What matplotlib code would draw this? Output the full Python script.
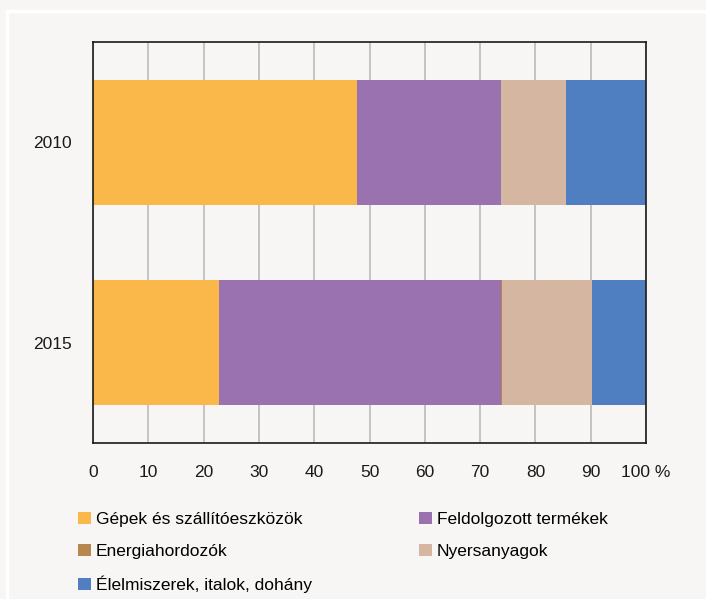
import numpy as np
import matplotlib.pyplot as plt
from matplotlib.patches import Patch, Rectangle

plt.rcParams['font.family'] = ['Liberation Sans', 'DejaVu Sans']

years = ["2010", "2015"]
categories = ["Gépek és szállítóeszközök", "Feldolgozott termékek", "Energiahordozók",
              "Nyersanyagok", "Élelmiszerek, italok, dohány"]
shares = {
    "Gépek és szállítóeszközök": [47.7, 22.8],
    "Feldolgozott termékek": [26.0, 51.0],
    "Energiahordozók": [0.1, 0.1],
    "Nyersanyagok": [11.7, 16.3],
    "Élelmiszerek, italok, dohány": [14.5, 9.8],
}
colors = ["#FBB84A", "#9B72B0", "#B8864F", "#D5B7A1", "#507FC1"]
xticks = [0, 10, 20, 30, 40, 50, 60, 70, 80, 90, 100]
xticklabels = ["0", "10", "20", "30", "40", "50", "60", "70", "80", "90", "100 %"]

bg = "#F7F6F4"
fig = plt.figure(figsize=(7.06, 5.99), dpi=100, facecolor=bg)
# white frame around the chart area
fig.patches.append(Rectangle((7 / 706, -0.01), 1.1, 1 - 11 / 599 + 0.01, transform=fig.transFigure,
                             fill=False, edgecolor="white", linewidth=2.5))
ax = fig.add_axes([93 / 706, 1 - 443 / 599, (646 - 93) / 706, (443 - 42) / 599])
ax.set_facecolor(bg)

y = np.arange(len(years))
left = np.zeros(len(years))
for cat, col in zip(categories, colors):
    vals = np.array(shares[cat])
    ax.barh(y, vals, left=left, height=0.625, color=col, label=cat, zorder=3)
    left += vals

ax.set_xlim(0, 100)
ax.set_ylim(1.5, -0.5)
ax.set_yticks(y)
ax.set_yticklabels(years)
ax.set_xticks(xticks)
ax.set_xticklabels(xticklabels)
ax.tick_params(length=0, labelsize=12.5, colors="#1a1a1a")
ax.tick_params(axis="x", pad=16)
ax.tick_params(axis="y", pad=15)
ax.grid(axis="x", color="#BFBFBF", linewidth=1.3, zorder=0)
for s in ax.spines.values():
    s.set_color("#1a1a1a")
    s.set_linewidth(1.2)
    s.set_zorder(4)

# legend fills column by column, so order it to read row by row
order = [0, 2, 4, 1, 3]
handles = [Patch(facecolor=colors[i], edgecolor="none") for i in order]
labels = [categories[i] for i in order]
fig.legend(handles, labels, loc="upper left", bbox_to_anchor=(62 / 706, 1 - 496 / 599),
           ncol=2, frameon=False, fontsize=12.5, handlelength=0.75, handleheight=0.75,
           handletextpad=0.3, columnspacing=6.15, labelspacing=0.95)

fig.savefig("out.png", dpi=100, facecolor=bg)
